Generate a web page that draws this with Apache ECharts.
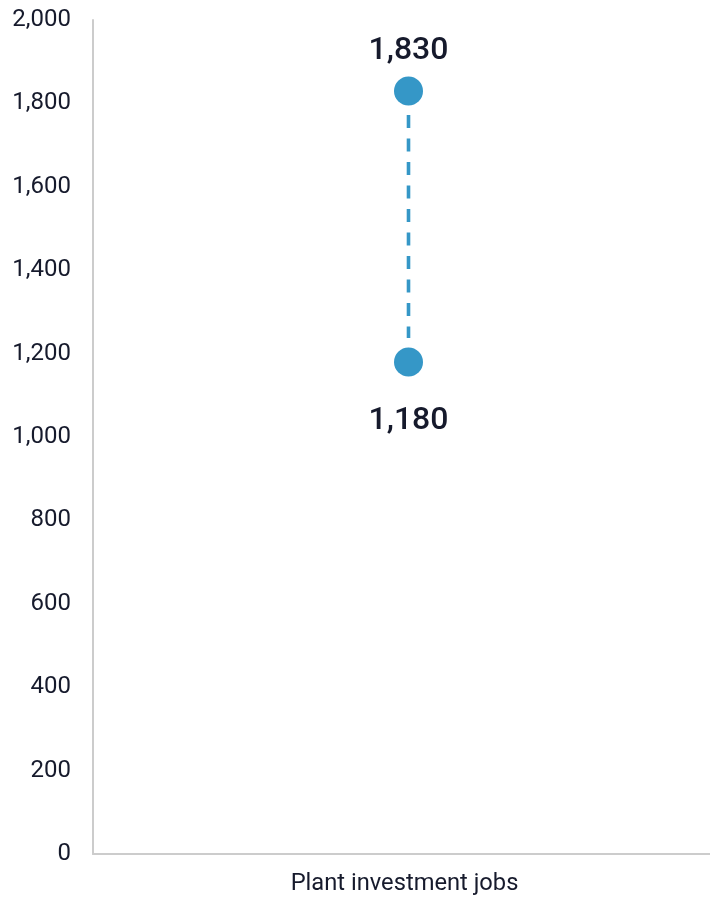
<!DOCTYPE html>
<html>
<head>
<meta charset="utf-8">
<script src="https://cdn.jsdelivr.net/npm/echarts@6/dist/echarts.min.js"></script>
<style>
  html, body { margin: 0; padding: 0; background: #ffffff; }
  #chart { width: 710px; height: 897px; }
</style>
</head>
<body>
<div id="chart"></div>
<script>
// Job estimate range for plant investment
const categories = ['Plant investment jobs'];
const lowValues = [1180];
const highValues = [1830];
const yTicks = { min: 0, max: 2000, interval: 200 };

const dotColor = '#3597c7';
const textColor = '#161a2c';
const axisGray = '#cccccc';

const chart = echarts.init(document.getElementById('chart'));

chart.setOption({
  animation: false,
  grid: {
    left: 93, right: -14, top: 20, bottom: 43,
    containLabel: false, outerBoundsMode: 'none'
  },
  xAxis: {
    type: 'category',
    data: categories,
    axisLine: { show: true, lineStyle: { color: axisGray, width: 2 } },
    axisTick: { show: false },
    axisLabel: {
      color: textColor, fontFamily: 'Roboto', fontSize: 23.7, margin: 18,
      padding: [0, 8, 0, 0]
    }
  },
  yAxis: {
    type: 'value',
    min: yTicks.min, max: yTicks.max, interval: yTicks.interval,
    axisLine: { show: true, lineStyle: { color: axisGray, width: 2 } },
    axisTick: { show: false },
    splitLine: { show: false },
    axisLabel: {
      color: textColor, fontFamily: 'Roboto', fontSize: 24, margin: 22,
      formatter: v => v.toLocaleString('en-US')
    }
  },
  series: [
    {
      // dashed connector from high down to low, stopping short of the dots
      type: 'custom',
      z: 1,
      data: categories.map((c, i) => [i, lowValues[i], highValues[i]]),
      renderItem: (params, api) => {
        const lo = api.coord([api.value(0), api.value(1)]);
        const hi = api.coord([api.value(0), api.value(2)]);
        const gap = 24;
        return {
          type: 'line',
          shape: { x1: hi[0], y1: hi[1] + gap, x2: lo[0], y2: lo[1] - gap },
          style: { stroke: dotColor, lineWidth: 3.6, lineDash: [13, 10.5] }
        };
      }
    },
    {
      type: 'scatter',
      z: 2,
      symbolSize: 29,
      itemStyle: { color: dotColor, opacity: 1 },
      data: highValues.map((v, i) => [i, v]),
      label: {
        show: true, position: 'top', distance: 9,
        color: textColor, fontFamily: 'Roboto', fontWeight: 500, fontSize: 32,
        formatter: p => p.value[1].toLocaleString('en-US')
      }
    },
    {
      type: 'scatter',
      z: 2,
      symbolSize: 29,
      itemStyle: { color: dotColor, opacity: 1 },
      data: lowValues.map((v, i) => [i, v]),
      label: {
        show: true, position: 'bottom', distance: 29,
        color: textColor, fontFamily: 'Roboto', fontWeight: 500, fontSize: 32,
        formatter: p => p.value[1].toLocaleString('en-US')
      }
    }
  ]
});
</script>
</body>
</html>
